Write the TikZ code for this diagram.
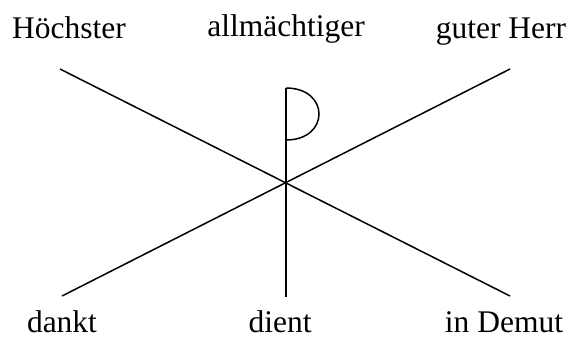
\documentclass[tikz,border=0pt]{standalone}
\usepackage{fontspec}
\setmainfont{Liberation Serif}
\usepackage{tikz}
\usetikzlibrary{positioning}

\begin{document}
\begin{tikzpicture}[x=1pt, y=-1pt, line width=1.5pt,
    wort/.style={anchor=base, inner sep=0pt, font=\fontsize{31.5}{31.5}\selectfont}]
    \useasboundingbox (0,0) rectangle (572,338);
    % Kreuz
    \coordinate (OL) at (60,69);
    \coordinate (OR) at (510,69);
    \coordinate (UL) at (62,296);
    \coordinate (UR) at (510,296);
    \coordinate (RT) at (286,88);
    \coordinate (RB) at (286,140);
    \coordinate (RU) at (286,297);
    \draw (OL) -- (UR);
    \draw (OR) -- (UL);
    \draw (RT) -- (RU);
    \draw (RT) .. controls (330,88) and (330,140) .. (RB);
    % Worte
    \node[wort] (hoechster) at (69,38) {Höchster};
    \node[wort] (allm) at (286,36) {allmächtiger};
    \node[wort] (herr) at (501,38) {guter Herr};
    \node[wort] (dankt) at (62,332) {dankt};
    \node[wort] (dient) at (280,332) {dient};
    \node[wort] (demut) at (504,332) {in Demut};
\end{tikzpicture}
\end{document}
